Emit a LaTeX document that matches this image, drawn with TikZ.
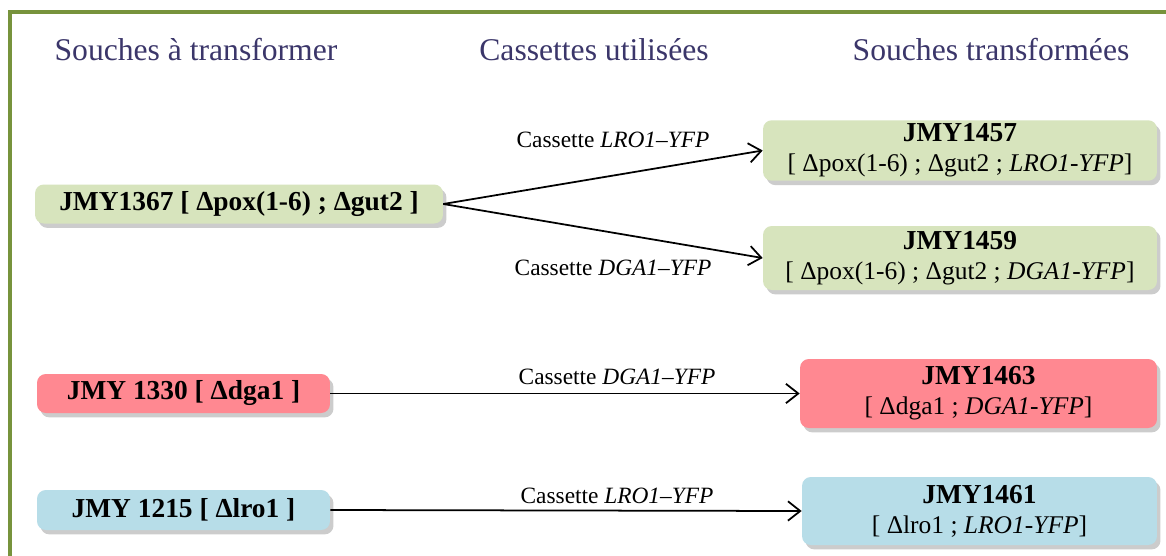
\documentclass[tikz,border=0pt]{standalone}
\usepackage{fontspec}
\setmainfont{Liberation Serif}
\usepackage {tikz}
\usetikzlibrary {positioning}
\usetikzlibrary{shadows}
\usetikzlibrary{arrows.meta}
\definecolor{frameGreen}{HTML}{77933C}
\definecolor{headInk}{HTML}{3B366A}
\definecolor{strainGreen}{HTML}{D7E4BD}
\definecolor{strainPink}{HTML}{FF8891}
\definecolor{strainBlue}{HTML}{B7DDE8}
\tikzset{
    heading/.style = {font=\fontsize{18}{21}\selectfont, text=headInk},
    strain/.style = {rectangle, rounded corners=5pt, inner sep=2pt, align=center,
        font=\fontsize{14.5}{17}\selectfont, drop shadow={shadow xshift=2pt, shadow yshift=-2.5pt, opacity=0.4}},
    strainid/.style = {font=\fontsize{15.6}{17}\selectfont\bfseries},
    cassette/.style = {font=\fontsize{13.3}{15}\selectfont},
    transfo/.style = {-{Straight Barb[length=7pt,width=11pt]}, line width=1pt}}
\newcommand{\strainname}[1]{{\fontsize{15.6}{17}\selectfont\bfseries #1}}
\begin{document}
\begin{tikzpicture}[x=0.02cm,y=-0.02cm]
    \useasboundingbox (0,0) rectangle (1166,555);
    \fill[white] (0,0) rectangle (1166,555);
    \draw[frameGreen, line width=1.8pt] (10,12) rectangle (1200,600);
    \path (196,50) node[heading] (headIn) {Souches à transformer}
        + (398,0) node[heading] (headCas) {Cassettes utilisées}
        + (795,0) node[heading] (headOut) {Souches transformées};
    \path (239,204) node[strain, fill=strainGreen, minimum width=8.16cm, minimum height=0.78cm] (JMYa) {\strainname{JMY1367 [ Δpox(1-6) ; Δgut2 ]}}
        + (721,-53.5) node[strain, fill=strainGreen, minimum width=7.88cm, minimum height=1.06cm] (JMYb) {\strainname{JMY1457}\\{}[ Δpox(1-6) ; Δgut2 ; \textit{LRO1-YFP}]}
        + (721,54) node[strain, fill=strainGreen, minimum width=7.88cm, minimum height=1.28cm] (JMYc) {\strainname{JMY1459}\\{}[ Δpox(1-6) ; Δgut2 ; \textit{DGA1-YFP}]};
    \path (183.5,393.5) node[strain, fill=strainPink, minimum width=5.86cm, minimum height=0.78cm] (JMYd) {\strainname{JMY 1330 [ Δdga1 ]}}
        + (795,0) node[strain, fill=strainPink, minimum width=7.14cm, minimum height=1.38cm] (JMYe) {\strainname{JMY1463}\\{}[ Δdga1 ; \textit{DGA1-YFP}]}
        ++ (0,116.5) node[strain, fill=strainBlue, minimum width=5.86cm, minimum height=0.8cm] (JMYf) {\strainname{JMY 1215 [ Δlro1 ]}}
        + (796,1) node[strain, fill=strainBlue, minimum width=7.1cm, minimum height=1.36cm] (JMYg) {\strainname{JMY1461}\\{}[ Δlro1 ; \textit{LRO1-YFP}]};
    % cassettes
    \draw[transfo] (JMYa.east) -- (JMYb.west);
    \draw[transfo] (JMYa.east) -- (JMYc.west);
    \draw[transfo] (JMYd.east) -- (JMYe.west);
    \draw[transfo] (JMYf.east) -- (JMYg.west);
    \path (613,140) node[cassette] (casLRO) {Cassette \textit{LRO1–YFP}}
        + (0,128) node[cassette] (casDGA) {Cassette \textit{DGA1–YFP}}
        + (4,237) node[cassette] (casDGAb) {Cassette \textit{DGA1–YFP}}
        + (4,356) node[cassette] (casLROb) {Cassette \textit{LRO1–YFP}};
\end{tikzpicture}
\end{document}
